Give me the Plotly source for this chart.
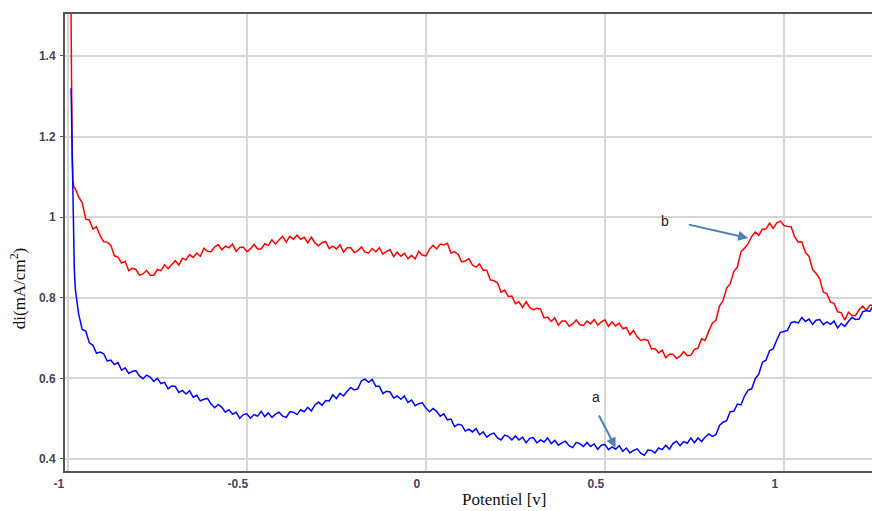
import numpy as np
import plotly.graph_objects as go

# ---------------- data ----------------
red_start_x = [-0.992, -0.991, -0.990, -0.989, -0.988, -0.986, -0.983, -0.979, -0.975, -0.970]
red_start_y = [1.60, 1.45, 1.32, 1.22, 1.15, 1.09, 1.075, 1.07, 1.06, 1.05]

blue_start_x = [-0.991, -0.990, -0.989, -0.988, -0.987, -0.986, -0.984, -0.982, -0.979, -0.975, -0.970]
blue_start_y = [1.32, 1.26, 1.22, 1.15, 1.09, 1.0, 0.92, 0.87, 0.82, 0.794, 0.76]

# regular sweep grid: -0.96 ... 1.25 V, step 0.01
sweep_x = list(np.round(np.arange(-0.96, 1.2501, 0.01), 2))

red_sweep_y = [
    1.036, 0.995, 0.993, 0.970, 0.976, 0.954, 0.939, 0.938, 0.930, 0.904,
    0.901, 0.886, 0.890, 0.867, 0.873, 0.870, 0.856, 0.859, 0.868, 0.856,
    0.856, 0.870, 0.867, 0.882, 0.872, 0.883, 0.892, 0.881, 0.898, 0.894,
    0.907, 0.900, 0.911, 0.903, 0.923, 0.915, 0.914, 0.926, 0.932, 0.919,
    0.928, 0.924, 0.933, 0.915, 0.925, 0.926, 0.914, 0.921, 0.932, 0.921,
    0.921, 0.934, 0.930, 0.944, 0.933, 0.944, 0.952, 0.938, 0.952, 0.945,
    0.955, 0.945, 0.950, 0.936, 0.950, 0.936, 0.929, 0.937, 0.939, 0.922,
    0.928, 0.921, 0.931, 0.913, 0.924, 0.924, 0.912, 0.917, 0.926, 0.913,
    0.911, 0.922, 0.914, 0.924, 0.908, 0.915, 0.919, 0.902, 0.913, 0.903,
    0.910, 0.897, 0.905, 0.896, 0.915, 0.906, 0.904, 0.920, 0.930, 0.921,
    0.933, 0.931, 0.935, 0.911, 0.914, 0.908, 0.889, 0.891, 0.897, 0.881,
    0.876, 0.884, 0.868, 0.868, 0.844, 0.842, 0.837, 0.814, 0.819, 0.803,
    0.804, 0.785, 0.790, 0.776, 0.790, 0.776, 0.770, 0.774, 0.772, 0.750,
    0.752, 0.741, 0.750, 0.732, 0.742, 0.742, 0.729, 0.735, 0.745, 0.733,
    0.731, 0.742, 0.735, 0.746, 0.732, 0.740, 0.745, 0.729, 0.740, 0.730,
    0.737, 0.723, 0.726, 0.708, 0.719, 0.703, 0.694, 0.697, 0.694, 0.673,
    0.674, 0.663, 0.670, 0.651, 0.660, 0.660, 0.649, 0.655, 0.666, 0.656,
    0.657, 0.672, 0.675, 0.698, 0.694, 0.717, 0.737, 0.744, 0.779, 0.793,
    0.824, 0.835, 0.865, 0.876, 0.914, 0.923, 0.934, 0.952, 0.963, 0.955,
    0.970, 0.971, 0.985, 0.972, 0.986, 0.990, 0.979, 0.977, 0.976, 0.951,
    0.938, 0.939, 0.912, 0.903, 0.870, 0.860, 0.847, 0.814, 0.810, 0.789,
    0.786, 0.765, 0.763, 0.744, 0.764, 0.756, 0.756, 0.770, 0.779, 0.769,
    0.781, 0.781,
]

blue_sweep_y = [
    0.721, 0.717, 0.688, 0.682, 0.662, 0.665, 0.661, 0.643, 0.645, 0.634,
    0.639, 0.620, 0.626, 0.612, 0.617, 0.619, 0.606, 0.599, 0.608, 0.603,
    0.592, 0.600, 0.587, 0.590, 0.574, 0.581, 0.580, 0.565, 0.570, 0.561,
    0.569, 0.553, 0.558, 0.544, 0.548, 0.550, 0.536, 0.527, 0.535, 0.528,
    0.516, 0.522, 0.511, 0.516, 0.501, 0.510, 0.512, 0.501, 0.510, 0.506,
    0.518, 0.505, 0.514, 0.503, 0.511, 0.516, 0.506, 0.503, 0.517, 0.516,
    0.510, 0.522, 0.517, 0.528, 0.519, 0.534, 0.541, 0.533, 0.545, 0.544,
    0.559, 0.550, 0.563, 0.556, 0.568, 0.577, 0.571, 0.574, 0.594, 0.598,
    0.590, 0.597, 0.580, 0.580, 0.562, 0.568, 0.566, 0.551, 0.556, 0.548,
    0.556, 0.540, 0.546, 0.532, 0.537, 0.539, 0.526, 0.517, 0.525, 0.518,
    0.506, 0.512, 0.497, 0.499, 0.480, 0.486, 0.484, 0.469, 0.474, 0.467,
    0.475, 0.460, 0.467, 0.454, 0.461, 0.464, 0.452, 0.447, 0.459, 0.456,
    0.447, 0.457, 0.447, 0.454, 0.440, 0.451, 0.453, 0.440, 0.447, 0.442,
    0.452, 0.438, 0.446, 0.434, 0.440, 0.444, 0.433, 0.428, 0.441, 0.438,
    0.431, 0.441, 0.431, 0.437, 0.424, 0.434, 0.436, 0.423, 0.430, 0.424,
    0.433, 0.419, 0.427, 0.415, 0.421, 0.425, 0.414, 0.409, 0.422, 0.421,
    0.415, 0.427, 0.423, 0.434, 0.424, 0.438, 0.444, 0.433, 0.443, 0.439,
    0.452, 0.440, 0.452, 0.443, 0.454, 0.462, 0.456, 0.460, 0.483, 0.491,
    0.495, 0.517, 0.518, 0.536, 0.534, 0.556, 0.571, 0.574, 0.599, 0.611,
    0.640, 0.645, 0.669, 0.673, 0.695, 0.714, 0.716, 0.719, 0.738, 0.741,
    0.737, 0.751, 0.741, 0.747, 0.734, 0.744, 0.746, 0.733, 0.740, 0.734,
    0.742, 0.725, 0.736, 0.729, 0.741, 0.751, 0.746, 0.747, 0.765, 0.768,
    0.766, 0.782,
]

x_tick_vals = [-1, -0.5, 0, 0.5, 1]
x_tick_text = ["-1", "-0.5", "0", "0.5", "1"]
y_tick_vals = [0.4, 0.6, 0.8, 1.0, 1.2, 1.4]
y_tick_text = ["0.4", "0.6", "0.8", "1", "1.2", "1.4"]

# ---------------- figure ----------------
fig = go.Figure()
fig.add_trace(go.Scatter(x=red_start_x + sweep_x, y=red_start_y + red_sweep_y,
                         mode="lines", line=dict(color="#ff0000", width=1.5),
                         name="b", showlegend=False))
fig.add_trace(go.Scatter(x=blue_start_x + sweep_x, y=blue_start_y + blue_sweep_y,
                         mode="lines", line=dict(color="#0000ff", width=1.5),
                         name="a", showlegend=False))

arrow_col = "#4f7fb4"
# arrow b
fig.add_annotation(x=0.90, y=0.948, ax=0.726, ay=0.983, xref="x", yref="y",
                   axref="x", ayref="y", text=" ", showarrow=True,
                   arrowhead=2, arrowsize=1, arrowwidth=2, arrowcolor=arrow_col)
fig.add_annotation(x=0.668, y=0.99, xref="x", yref="y", text="b", showarrow=False,
                   font=dict(family="Liberation Sans, Arial", size=14, color="#222"))
# arrow a
fig.add_annotation(x=0.53, y=0.428, ax=0.475, ay=0.522, xref="x", yref="y",
                   axref="x", ayref="y", text=" ", showarrow=True,
                   arrowhead=2, arrowsize=1, arrowwidth=2, arrowcolor=arrow_col)
fig.add_annotation(x=0.475, y=0.553, xref="x", yref="y", text="a", showarrow=False,
                   font=dict(family="Liberation Sans, Arial", size=14, color="#222"))

# axis titles
fig.add_annotation(x=-0.0582, y=0.40, xref="paper", yref="paper",
                   text="di(mA/cm<sup>2</sup>)", textangle=-90, showarrow=False,
                   xanchor="center", yanchor="middle",
                   font=dict(family="Liberation Serif, Times New Roman", size=17, color="#111"))
fig.add_annotation(x=0.544, y=-0.062, xref="paper", yref="paper",
                   text="Potentiel [v]", showarrow=False,
                   xanchor="center", yanchor="middle",
                   font=dict(family="Liberation Serif, Times New Roman", size=17, color="#111"))

tick_font = dict(family="Liberation Sans, Arial", size=12, color="#44445c", weight="bold")

fig.update_layout(
    width=872, height=511,
    margin=dict(l=65, r=0, t=14, b=40),
    paper_bgcolor="white", plot_bgcolor="white",
    xaxis=dict(range=[-1.008, 1.246], tickvals=x_tick_vals, ticktext=x_tick_text,
               showgrid=True, gridcolor="#d6d6d6", gridwidth=2, zeroline=False,
               showline=True, linecolor="#555555", linewidth=2, mirror=True,
               ticks="", tickfont=tick_font, ticklabelshift=-9, ticklabelstandoff=1),
    yaxis=dict(range=[0.370, 1.504], tickvals=y_tick_vals, ticktext=y_tick_text,
               showgrid=True, gridcolor="#d6d6d6", gridwidth=2, zeroline=False,
               showline=True, linecolor="#555555", linewidth=2, mirror=False,
               ticks="outside", ticklen=3, tickcolor="#555555",
               tickfont=tick_font, ticklabelstandoff=2),
)

fig.write_html("out.html")
